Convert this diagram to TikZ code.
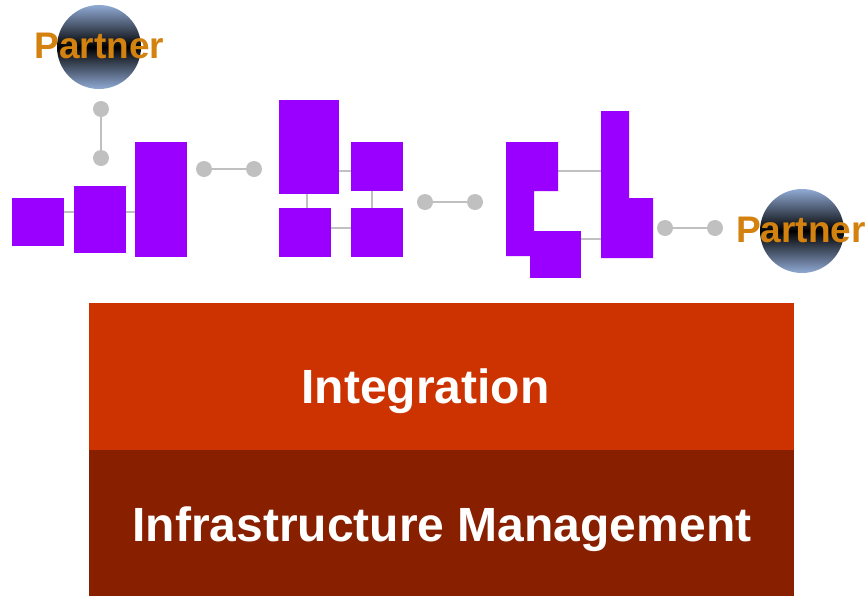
\documentclass[tikz,border=0pt]{standalone}
\usepackage{fontspec}
\setmainfont{Liberation Sans}
\begin{document}
\begin{tikzpicture}[x=1pt,y=-1pt,
  block/.style={fill=violet0,draw=none},
  link/.style={draw=linkgray,line width=2.6pt},
  dot/.style={circle,fill=linkgray,minimum size=16pt,inner sep=0pt},
  partner/.style={circle,minimum size=84pt,inner sep=0pt,
    top color=globeblue,bottom color=globeblue,middle color=black},
  partnertext/.style={text=partnerorange,font=\bfseries\fontsize{37}{37}\selectfont},
  layer/.style={draw=none,anchor=north west,inner sep=0pt,minimum width=705pt,minimum height=147pt},
  layertext/.style={text=white,font=\bfseries\fontsize{48}{48}\selectfont}
]
\definecolor{violet0}{HTML}{9900FF}
\definecolor{linkgray}{HTML}{C0C0C0}
\definecolor{globeblue}{HTML}{90AAD4}
\definecolor{partnerorange}{HTML}{D4820F}
\definecolor{integ}{HTML}{CC3300}
\definecolor{infra}{HTML}{882000}
\useasboundingbox (0,0) rectangle (865,595);

% connectors inside the first group
\draw[link] (38,212) -- (161,212);
% second group links
\draw[link] (309,171) -- (377,171);
\draw[link] (307,147) -- (307,232);
\draw[link] (372,167) -- (372,232);
\draw[link] (305,228) -- (377,228);
% third group links
\draw[link] (532,171) -- (615,171);
\draw[link] (556,239) -- (615,239);

% first group
\fill[block] (12,198) rectangle (64,246);
\fill[block] (74,186) rectangle (126,253);
\fill[block] (135,142) rectangle (187,257);
% second group
\fill[block] (279,100) rectangle (339,194);
\fill[block] (351,142) rectangle (403,191);
\fill[block] (279,208) rectangle (331,257);
\fill[block] (351,208) rectangle (403,257);
% third group
\fill[block] (506,142) -- (558,142) -- (558,191) -- (534,191) -- (534,256) -- (506,256) -- cycle;
\fill[block] (530,231) rectangle (581,278);
\fill[block] (601,111) -- (629,111) -- (629,198) -- (653,198) -- (653,258) -- (601,258) -- cycle;

% partners
\node[partner] (p1) at (99,47) {};
\node[partnertext] (p1t) at (99.5,46) {Partner};
\node[partner] (p2) at (802,231) {};
\node[partnertext] (p2t) at (801,230) {Partner};

% connector dots
\node[dot] (d1) at (101,109) {};
\node[dot] (d2) at (101,158) {};
\draw[link] (d1) -- (d2);
\node[dot] (d3) at (204,169) {};
\node[dot] (d4) at (254,169) {};
\draw[link] (d3) -- (d4);
\node[dot] (d5) at (425,202) {};
\node[dot] (d6) at (475,202) {};
\draw[link] (d5) -- (d6);
\node[dot] (d7) at (665,228) {};
\node[dot] (d8) at (715,228) {};
\draw[link] (d7) -- (d8);

% platform layers
\node[layer,fill=integ] (integ) at (89,303) {};
\node[layer,fill=infra] (infra) at (89,450) {};
\node[layertext] at (425.5,391) {Integration};
\node[layertext] at (442,529) {Infrastructure Management};
\end{tikzpicture}
\end{document}
